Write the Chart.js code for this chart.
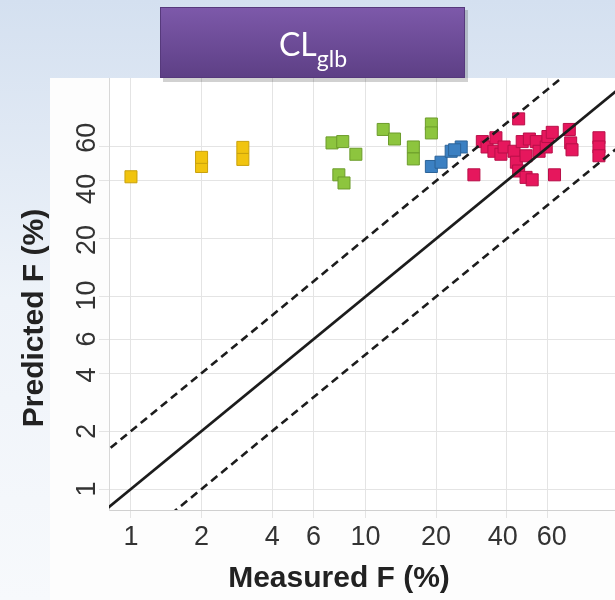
<!DOCTYPE html>
<html><head><meta charset="utf-8">
<script src="https://cdn.jsdelivr.net/npm/chart.js@4/dist/chart.umd.min.js"></script>
<style>html,body{margin:0;padding:0;overflow:hidden;background:#fff}#wrap{width:615px;height:600px;position:relative}</style>
</head><body><div id="wrap"><canvas id="c" width="615" height="600"></canvas></div>
<script>
// ---- data ----
const xTicks = [1, 2, 4, 6, 10, 20, 40, 60];
const yTicks = [1, 2, 4, 6, 10, 20, 40, 60];
const yellowX = [1, 2, 2, 3, 3];
const yellowY = [42, 47.5, 53, 51.7, 59.7];
const greenX = [7.2, 8, 9.1, 7.7, 8.1, 11.9, 13.3, 16, 16, 19.1, 19.1];
const greenY = [63, 64, 55, 43, 39, 74, 66, 60, 52, 79, 71];
const blueX = [19.1, 21, 23.2, 25.6, 24];
const blueY = [47.5, 50, 57, 60, 58];
const redX = [29, 31.5, 33, 36, 35.3, 37.8, 39, 45, 43, 44, 45, 46.6, 48.4, 50, 48.4, 51.4, 53.5, 55, 59, 60, 62.6, 64, 74, 75, 76, 99, 99, 99];
const redY = [43, 64, 60, 67, 57, 55, 60, 84, 57, 50, 45, 64, 54, 66, 41.7, 40.5, 64, 57, 60, 68, 71.5, 43, 74, 63, 58, 67, 60, 54];
const lineX = [0.5, 200];          // reference lines y = x, y = 2x, y = x/2
const xLabel = 'Measured F (%)';
const yLabel = 'Predicted F (%)';

const pts = (xs, ys) => xs.map((x, i) => ({x, y: ys[i]}));
const refLine = r => lineX.map(x => ({x, y: x * r}));

function sq(data, fill, border) {
  return {type: 'scatter', data, pointStyle: 'rect', pointRadius: 8.5, pointHoverRadius: 8.5,
    backgroundColor: fill, borderColor: border, borderWidth: 1, order: 2};
}
function ln(r, dash) {
  return {type: 'line', data: refLine(r), borderColor: '#1c1c1c', borderWidth: 2.6,
    borderDash: dash, pointRadius: 0, fill: false, tension: 0, order: 0};
}

// push neighbouring labels apart so they keep a minimum gap
function spread(pos, widths, gap) {
  const p = pos.slice();
  for (let k = 0; k < 5; k++) {
    for (let i = 0; i < p.length - 1; i++) {
      const need = (widths[i] + widths[i + 1]) / 2 + gap;
      const d = Math.abs(p[i + 1] - p[i]);
      if (d < need) {
        const s = (need - d) / 2 * Math.sign(p[i + 1] - p[i]);
        p[i] -= s; p[i + 1] += s;
      }
    }
  }
  return p;
}

const bgPlugin = {
  id: 'bg',
  beforeDraw(chart) {
    const c = chart.ctx, W = chart.width, H = chart.height;
    c.save();
    const g = c.createLinearGradient(0, 0, 0, H);
    g.addColorStop(0, '#d4e0f0'); g.addColorStop(0.5, '#eef3f9'); g.addColorStop(1, '#f7f9fc');
    c.fillStyle = g; c.fillRect(0, 0, W, H);
    c.fillStyle = '#fdfdfd'; c.fillRect(50, 78, W - 50, H - 78);
    const a = chart.chartArea;
    c.fillStyle = '#ffffff'; c.fillRect(a.left, a.top, a.right - a.left, a.bottom - a.top);
    c.restore();
  },
  afterDraw(chart) {
    const c = chart.ctx, ys = chart.scales.y, xs = chart.scales.x;
    c.save();
    c.fillStyle = '#333'; c.font = '27px "Liberation Sans", Arial, sans-serif';
    c.textAlign = 'center'; c.textBaseline = 'middle';
    // x tick labels
    const xw = xTicks.map(v => c.measureText(String(v)).width);
    const xp = spread(xTicks.map(v => xs.getPixelForValue(v)), xw, 19);
    xTicks.forEach((v, i) => c.fillText(String(v), xp[i], 538));
    // y tick labels, vertical
    const yw = yTicks.map(v => c.measureText(String(v)).width);
    const yp = spread(yTicks.map(v => ys.getPixelForValue(v)), yw, 21);
    yTicks.forEach((v, i) => {
      c.save(); c.translate(87, yp[i]); c.rotate(-Math.PI / 2); c.fillText(String(v), 0, 1); c.restore();
    });
    // axis titles
    c.fillStyle = '#222'; c.font = 'bold 30px "Liberation Sans", Arial, sans-serif';
    c.fillText(xLabel, 339, 579);
    c.save(); c.translate(35, 318); c.rotate(-Math.PI / 2); c.fillText(yLabel, 0, 0); c.restore();
    // title box
    c.fillStyle = 'rgba(0,0,0,0.18)'; c.fillRect(163, 10, 305, 72);
    const g = c.createLinearGradient(0, 7, 0, 78);
    g.addColorStop(0, '#7d59aa'); g.addColorStop(1, '#5d3f85');
    c.fillStyle = g; c.fillRect(160, 7, 305, 71);
    c.strokeStyle = '#56397c'; c.lineWidth = 1; c.strokeRect(160.5, 7.5, 304, 70);
    c.fillStyle = '#ffffff'; c.textBaseline = 'alphabetic'; c.textAlign = 'left';
    c.font = '32px Lato, "Open Sans", sans-serif';
    const w1 = c.measureText('CL').width;
    c.font = '23px Lato, "Open Sans", sans-serif';
    const w2 = c.measureText('glb').width;
    const x0 = 313 - (w1 + w2) / 2;
    c.font = '32px Lato, "Open Sans", sans-serif';
    c.fillText('CL', x0, 56);
    c.font = '23px Lato, "Open Sans", sans-serif';
    c.fillText('glb', x0 + w1, 67);
    c.restore();
  }
};

new Chart(document.getElementById('c'), {
  data: {datasets: [
    ln(1, []), ln(2, [8, 5]), ln(0.5, [8, 5]),
    sq(pts(yellowX, yellowY), '#f1c40f', '#c9a10c'),
    sq(pts(greenX, greenY), '#8dc53e', '#6c9c2b'),
    sq(pts(blueX, blueY), '#3b80c2', '#2c6398'),
    sq(pts(redX, redY), '#e6175d', '#b80f48')
  ]},
  options: {
    responsive: false, animation: false, events: [],
    layout: {autoPadding: false, padding: {top: 78, left: 0, right: 0, bottom: 0}},
    plugins: {legend: {display: false}, tooltip: {enabled: false}},
    scales: {
      x: {type: 'logarithmic', position: 'bottom', min: 0.806, max: 115.9,
        afterBuildTicks: s => { s.ticks = xTicks.map(v => ({value: v})); },
        afterFit: s => { s.height = 90; },
        ticks: {display: false},
        grid: {color: '#e4e4e4', lineWidth: 1, tickLength: 8, drawTicks: true},
        border: {color: '#d0d0d0', width: 1}},
      y: {type: 'logarithmic', position: 'left', min: 0.778, max: 137,
        afterBuildTicks: s => { s.ticks = yTicks.map(v => ({value: v})); },
        afterFit: s => { s.width = 109; },
        ticks: {display: false},
        grid: {color: '#e4e4e4', lineWidth: 1, tickLength: 10, drawTicks: true},
        border: {color: '#d8d8d8', width: 1}}
    }
  },
  plugins: [bgPlugin]
});
</script></body></html>
